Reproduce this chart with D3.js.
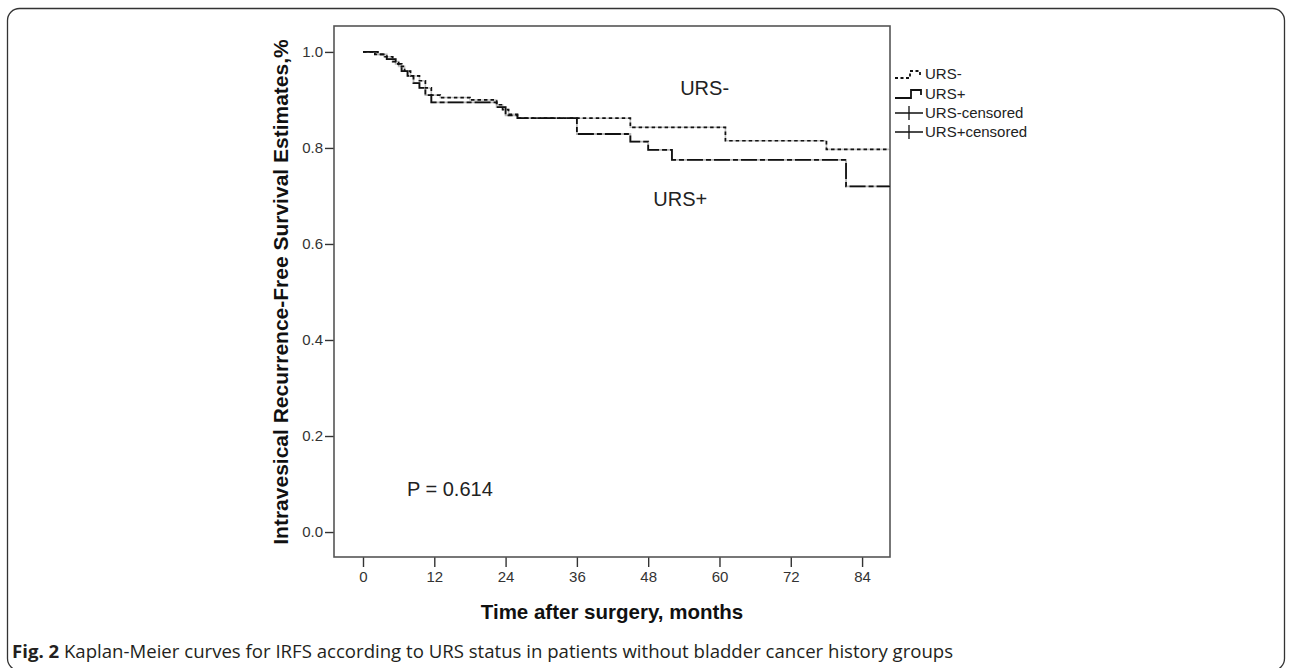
<!DOCTYPE html>
<html>
<head>
<meta charset="utf-8">
<script src="https://cdn.jsdelivr.net/npm/d3@7"></script>
<style>
  html, body { margin: 0; padding: 0; background: #fff; }
  svg { display: block; }
</style>
</head>
<body>
<svg id="chart" width="1292" height="668"></svg>
<script>
// Follow-up axis ticks (months) and survival axis ticks
const monthTicks = [0, 12, 24, 36, 48, 60, 72, 84];
const survivalTicks = [0.0, 0.2, 0.4, 0.6, 0.8, 1.0];

// Kaplan-Meier step estimates: URS- group
const ursNegTime = [0, 2.0, 3.5, 5.0, 6.0, 7.0, 8.0, 9.5, 10.5, 11.5, 13.0, 18.0, 22.5, 23.5, 24.5, 26.0, 45.0, 61.0, 78.0, 88.7];
const ursNegSurv = [1.0, 0.995, 0.99, 0.98, 0.97, 0.96, 0.95, 0.94, 0.925, 0.91, 0.905, 0.90, 0.89, 0.88, 0.87, 0.862, 0.843, 0.815, 0.797, 0.797];

// Kaplan-Meier step estimates: URS+ group
const ursPosTime = [0, 2.5, 4.0, 5.5, 6.5, 7.5, 8.5, 9.5, 10.5, 11.5, 22.5, 24.0, 26.0, 36.0, 45.0, 48.0, 52.0, 81.3, 88.7];
const ursPosSurv = [1.0, 0.995, 0.985, 0.975, 0.96, 0.95, 0.935, 0.925, 0.91, 0.895, 0.885, 0.868, 0.862, 0.829, 0.813, 0.796, 0.775, 0.72, 0.72];

const legendLabels = ["URS-", "URS+", "URS-censored", "URS+censored"];
const pValueText = "P = 0.614";

const svg = d3.select("#chart");
const FONT = "'Liberation Sans', Arial, sans-serif";

// Outer figure frame
svg.append("rect")
  .attr("x", 7.5).attr("y", 8.5)
  .attr("width", 1277).attr("height", 662)
  .attr("rx", 12).attr("ry", 12)
  .attr("fill", "none").attr("stroke", "#333").attr("stroke-width", 1.3);

const box = { left: 334, right: 890, top: 26, bottom: 557 };

const x = d3.scaleLinear().domain([-4.88, 88.7]).range([box.left, box.right]);
const y = d3.scaleLinear().domain([-0.052, 1.054]).range([box.bottom, box.top]);

// Y axis
const yAxis = svg.append("g")
  .attr("transform", `translate(${box.left},0)`)
  .call(d3.axisLeft(y).tickValues(survivalTicks).tickFormat(d3.format(".1f")).tickSize(9).tickPadding(2));
yAxis.select(".domain").remove();
yAxis.selectAll(".tick line").attr("stroke", "#333").attr("stroke-width", 1.4);
yAxis.selectAll(".tick text").attr("font-family", FONT).attr("font-size", 15).attr("fill", "#333");

// X axis
const xAxis = svg.append("g")
  .attr("transform", `translate(0,${box.bottom})`)
  .call(d3.axisBottom(x).tickValues(monthTicks).tickSize(10).tickPadding(4));
xAxis.select(".domain").remove();
xAxis.selectAll(".tick line").attr("stroke", "#333").attr("stroke-width", 1.4);
xAxis.selectAll(".tick text").attr("font-family", FONT).attr("font-size", 15).attr("fill", "#333");

// Plot frame
svg.append("rect")
  .attr("x", box.left).attr("y", box.top)
  .attr("width", box.right - box.left).attr("height", box.bottom - box.top)
  .attr("fill", "none").attr("stroke", "#555").attr("stroke-width", 1.6);

// Survival curves
const stepLine = d3.line()
  .x(d => x(d[0]))
  .y(d => y(d[1]))
  .curve(d3.curveStepAfter);

const negPts = d3.zip(ursNegTime, ursNegSurv);
const posPts = d3.zip(ursPosTime, ursPosSurv);

const curves = svg.append("g");
// grey underlay shows through the gaps of the dashed strokes
curves.append("path").attr("d", stepLine(negPts))
  .attr("fill", "none").attr("stroke", "#c4c4c4").attr("stroke-width", 1.6);
curves.append("path").attr("d", stepLine(posPts))
  .attr("fill", "none").attr("stroke", "#b8b8b8").attr("stroke-width", 1.8);
curves.append("path").attr("d", stepLine(negPts))
  .attr("fill", "none").attr("stroke", "#111").attr("stroke-width", 1.7)
  .attr("stroke-dasharray", "3.5,3");
curves.append("path").attr("d", stepLine(posPts))
  .attr("fill", "none").attr("stroke", "#111").attr("stroke-width", 1.8)
  .attr("stroke-dasharray", "16,3,5,3");

// In-plot annotations
svg.append("text").attr("x", x(57.5)).attr("y", y(0.925)).attr("dy", "0.35em")
  .attr("text-anchor", "middle").attr("font-family", FONT).attr("font-size", 20).attr("fill", "#222")
  .text("URS-");
svg.append("text").attr("x", x(53.4)).attr("y", y(0.694)).attr("dy", "0.35em")
  .attr("text-anchor", "middle").attr("font-family", FONT).attr("font-size", 20).attr("fill", "#222")
  .text("URS+");
svg.append("text").attr("x", x(7.4)).attr("y", y(0.09)).attr("dy", "0.35em")
  .attr("text-anchor", "start").attr("font-family", FONT).attr("font-size", 20).attr("fill", "#222")
  .text(pValueText);

// Legend
const lg = svg.append("g").attr("transform", "translate(895,0)");
const rowY = [74, 94, 113, 132];
// URS- symbol: dotted step
lg.append("path").attr("d", `M0,${rowY[0] + 4} H15 V${rowY[0] - 3} H25 V${rowY[0] + 2}`)
  .attr("fill", "none").attr("stroke", "#111").attr("stroke-width", 1.8).attr("stroke-dasharray", "3,2.5");
// URS+ symbol: solid step
lg.append("path").attr("d", `M0,${rowY[1] + 4} H16 V${rowY[1] - 4} H26 V${rowY[1] + 1}`)
  .attr("fill", "none").attr("stroke", "#111").attr("stroke-width", 1.8);
// censored symbols
[2, 3].forEach(i => {
  lg.append("path").attr("d", `M0,${rowY[i]} H28 M14,${rowY[i] - 7} V${rowY[i] + 7}`)
    .attr("fill", "none").attr("stroke", "#111").attr("stroke-width", 1.3);
});
lg.selectAll("text.lab").data(legendLabels).join("text")
  .attr("class", "lab")
  .attr("x", 30).attr("y", (d, i) => rowY[i]).attr("dy", "0.36em")
  .attr("font-family", FONT).attr("font-size", 15).attr("fill", "#222")
  .text(d => d);

// Axis titles
svg.append("text")
  .attr("transform", `translate(281,292) rotate(-90)`)
  .attr("text-anchor", "middle").attr("dy", "0.35em")
  .attr("font-family", FONT).attr("font-weight", "bold").attr("font-size", 21).attr("fill", "#111")
  .text("Intravesical Recurrence-Free Survival Estimates,%");
svg.append("text")
  .attr("x", 612).attr("y", 612).attr("dy", "0.35em")
  .attr("text-anchor", "middle")
  .attr("font-family", FONT).attr("font-weight", "bold").attr("font-size", 20.5).attr("fill", "#111")
  .text("Time after surgery, months");

// Figure caption
const cap = svg.append("text")
  .attr("x", 12).attr("y", 651).attr("dy", "0.35em")
  .attr("font-family", "'Open Sans', 'Noto Sans', sans-serif").attr("font-size", 18.6).attr("fill", "#231f20");
cap.append("tspan").attr("font-weight", "bold").text("Fig. 2");
cap.append("tspan").text(" Kaplan-Meier curves for IRFS according to URS status in patients without bladder cancer history groups");
</script>
</body>
</html>
